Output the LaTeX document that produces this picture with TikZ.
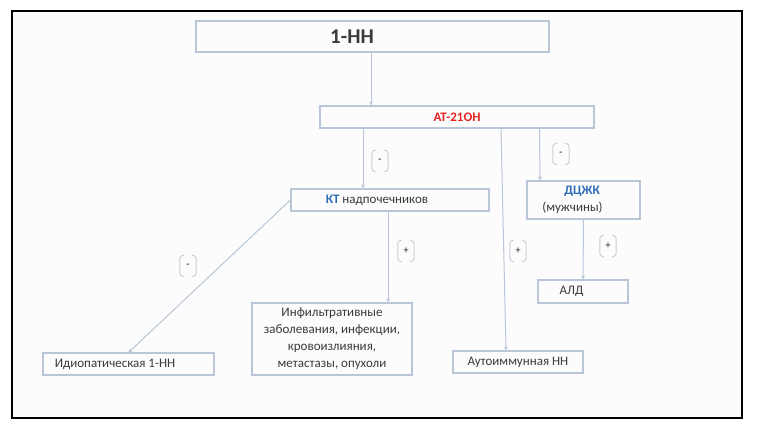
\documentclass[tikz,border=0pt]{standalone}
\usepackage{fontspec}
\setmainfont{Carlito}
\usetikzlibrary{arrows.meta}
\definecolor{edgec}{HTML}{B8C6D8}
\definecolor{txt}{HTML}{3A3A3A}
\definecolor{redt}{HTML}{E32222}
\definecolor{bluet}{HTML}{2F6DB5}
\definecolor{brk}{HTML}{C9CFD8}
\definecolor{signt}{HTML}{555555}
\newcommand\signlab[3]{%
 \node[sign] (#1) at (#2) {#3};
 \draw[bracket] ([xshift=4pt]#1.north west) -- (#1.north west) -- (#1.south west) -- ([xshift=4pt]#1.south west);
 \draw[bracket] ([xshift=-4pt]#1.north east) -- (#1.north east) -- (#1.south east) -- ([xshift=-4pt]#1.south east);}
\begin{document}
\begin{tikzpicture}[x=1pt,y=-1pt,
 box/.style={draw=edgec,line width=1.1pt,text=txt,inner sep=0pt,font=\fontsize{13}{17}\selectfont},
 arr/.style={draw=edgec,line width=1pt,-{Stealth[length=4pt,width=4pt]}},
 sign/.style={minimum width=16pt,minimum height=21pt,inner sep=0pt,text=signt,font=\bfseries\fontsize{10}{10}\selectfont},
 bracket/.style={draw=brk,line width=1pt,rounded corners=3.5pt}]
\useasboundingbox (0,0) rectangle (758,426);
\fill[white] (0,0) rectangle (758,426);
\draw[black,line width=2pt,fill=white!98!gray] (12,11) rectangle (742,418);
\node[box,minimum width=353pt,minimum height=31pt,font=\bfseries\fontsize{21}{21}\selectfont] (top) at (372.5,36.5) {1-НН\hspace*{41pt}};
\node[box,minimum width=274pt,minimum height=22pt,text=redt,font=\bfseries\fontsize{13}{13}\selectfont] (at) at (457,117) {АТ-21ОН};
\node[box,minimum width=198pt,minimum height=22pt] (kt) at (390,200) {\textcolor{bluet}{\textbf{КТ}} надпочечников\hspace*{26pt}};
\node[box,minimum width=113pt,minimum height=38pt,align=left] (dc) at (583.5,200) {\hspace*{22pt}\textcolor{bluet}{\textbf{ДЦЖК}}\\(мужчины)\hspace*{22pt}};
\node[box,minimum width=90pt,minimum height=23pt] (ald) at (583,291.5) {АЛД\hspace*{23pt}};
\node[box,minimum width=130pt,minimum height=22pt] (auto) at (518,362) {Аутоиммунная НН};
\node[box,minimum width=160pt,minimum height=72pt,align=center] (inf) at (332,339) {Инфильтративные\\заболевания, инфекции,\\кровоизлияния,\\метастазы, опухоли};
\node[box,minimum width=171pt,minimum height=22pt] (idio) at (128.5,364) {Идиопатическая 1-НН\hspace*{27pt}};
\draw[arr] ([xshift=-1.5pt]top.south) -- ([xshift=-86pt]at.north);
\draw[arr] ([xshift=-94pt]at.south) -- ([xshift=-27pt]kt.north);
\draw[arr] ([xshift=44pt]at.south) -- ([xshift=-12pt]auto.north);
\draw[arr] ([xshift=82.5pt]at.south) -- ([xshift=-43.5pt]dc.north);
\draw[arr] (kt.west) -- (idio.north);
\draw[arr] ([xshift=-2pt]kt.south) -- ([xshift=56pt]inf.north);
\draw[arr] (dc.south) -- (ald.north);
\signlab{s1}{380,161}{-}
\signlab{s2}{561,154}{-}
\signlab{s3}{188,266}{-}
\signlab{s4}{406,251}{+}
\signlab{s5}{518,251}{+}
\signlab{s6}{608,246}{+}
\end{tikzpicture}
\end{document}
